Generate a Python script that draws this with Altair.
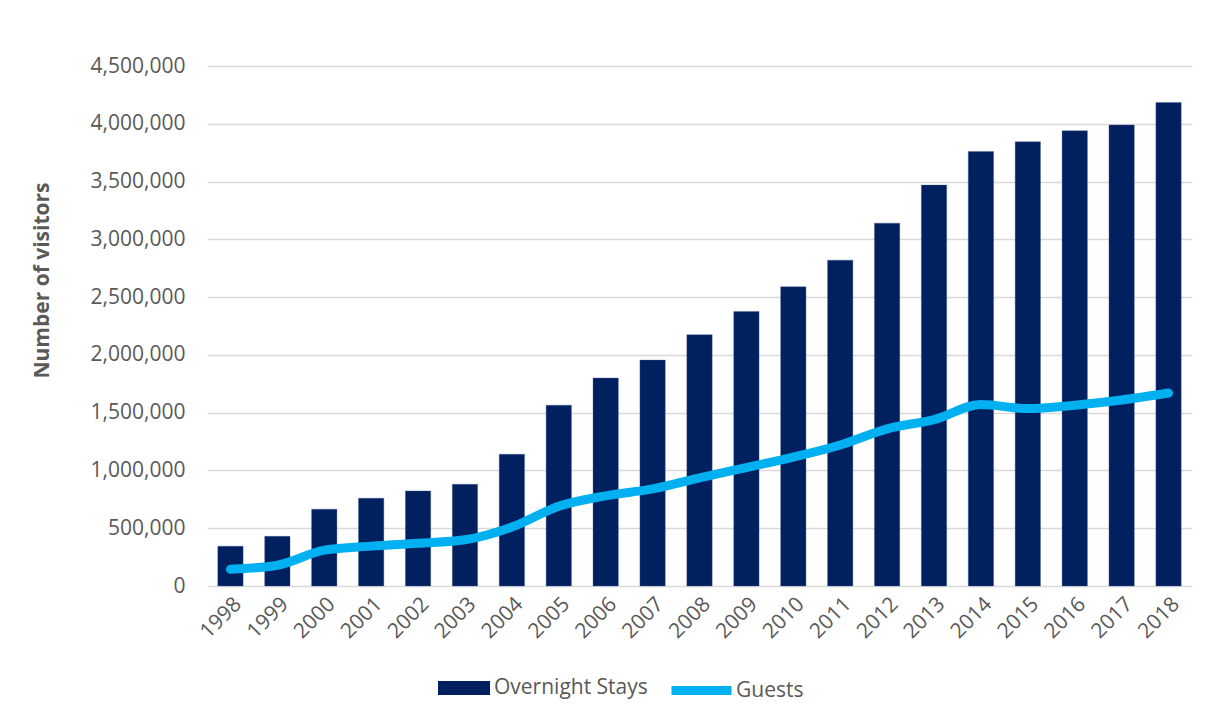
import altair as alt
import pandas as pd

# Annual tourism figures
years = [str(y) for y in range(1998, 2019)]
overnight_stays = [
    345000, 430000, 665000, 760000, 823000, 880000, 1140000, 1565000,
    1800000, 1955000, 2175000, 2375000, 2590000, 2820000, 3140000,
    3470000, 3760000, 3845000, 3940000, 3990000, 4185000,
]
guests = [
    145000, 180000, 310000, 345000, 370000, 400000, 510000, 690000,
    780000, 840000, 935000, 1025000, 1115000, 1220000, 1360000,
    1440000, 1570000, 1535000, 1565000, 1610000, 1670000,
]
y_ticks = list(range(0, 4500001, 500000))

df = pd.DataFrame({"year": years, "stays": overnight_stays, "guests": guests})

FONT = "Open Sans"
GREY = "#595959"
NAVY = "#002060"
CYAN = "#00B0F0"
FS = 21

x_enc = alt.X(
    "year:N",
    sort=years,
    title=None,
    scale=alt.Scale(paddingInner=0.46, paddingOuter=0.23),
    axis=alt.Axis(labelAngle=-45, labelPadding=7, ticks=False, domain=False, grid=False),
)

y_scale = alt.Scale(domain=[0, 4500000], nice=False)

bars = (
    alt.Chart(df)
    .transform_calculate(series="'Overnight Stays'")
    .mark_bar(stroke="#4a5f8c", strokeWidth=0.6, strokeOpacity=0.6)
    .encode(
        x=x_enc,
        y=alt.Y(
            "stays:Q",
            scale=y_scale,
            title="Number of visitors",
            axis=alt.Axis(
                values=y_ticks,
                format=",d",
                ticks=False,
                domain=False,
                labelPadding=22,
                titlePadding=38,
                titleY=214,
                titleFontWeight="bold",
                gridColor="#D9D9D9",
                gridWidth=1.5,
            ),
        ),
        fill=alt.Fill(
            "series:N",
            scale=alt.Scale(domain=["Overnight Stays"], range=[NAVY]),
            legend=alt.Legend(
                title=None,
                orient="none",
                legendX=231,
                legendY=596,
                symbolType="M-1,-0.27H1V0.27H-1Z",
                symbolSize=2704,
                symbolStrokeWidth=0,
                labelOffset=4,
            ),
        ),
    )
)

line = (
    alt.Chart(df)
    .transform_calculate(series="'Guests'")
    .mark_line(strokeWidth=9, strokeCap="round", strokeJoin="round", interpolate="monotone")
    .encode(
        x=x_enc,
        y=alt.Y("guests:Q", scale=y_scale),
        stroke=alt.Stroke(
            "series:N",
            scale=alt.Scale(domain=["Guests"], range=[CYAN]),
            legend=alt.Legend(
                title=None,
                orient="none",
                legendX=460,
                legendY=590,
                symbolType="stroke",
                symbolSize=3600,
                symbolStrokeWidth=9,
                labelOffset=0,
            ),
        ),
    )
)

chart = (
    alt.layer(bars, line)
    .resolve_scale(y="shared")
    .properties(
        width=985,
        height=520,
        autosize=alt.AutoSizeParams(type="none"),
        padding={"left": 207, "top": 66, "right": 29, "bottom": 136},
    )
    .configure_view(stroke=None)
    .configure_axis(
        labelFont=FONT,
        labelFontSize=FS,
        labelColor=GREY,
        titleFont=FONT,
        titleFontSize=FS,
        titleColor=GREY,
    )
    .configure_legend(
        labelFont=FONT,
        labelFontSize=FS,
        labelColor=GREY,
        padding=0,
    )
)

chart.save("out.html", embed_options={"renderer": "svg", "actions": False})
